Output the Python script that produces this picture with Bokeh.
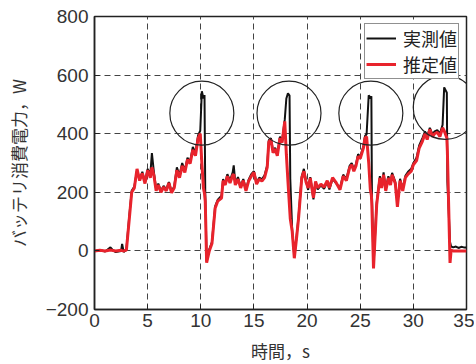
from bokeh.plotting import figure
from bokeh.models import Range1d, Legend, LegendItem, CustomJSTickFormatter, FixedTicker
from bokeh.embed import file_html
from bokeh.resources import INLINE

time_s = [0.0, 0.5, 1.0, 1.5, 1.75, 2.0, 2.5, 2.6, 2.75, 3.0, 3.25, 3.5, 3.75, 4.0, 4.25, 4.5, 4.75,
          5.0, 5.25, 5.4, 5.6, 5.8, 6.0, 6.25, 6.5, 6.75, 7.0, 7.25, 7.5, 7.75, 8.0, 8.25, 8.5, 8.75,
          9.0, 9.25, 9.5, 9.75, 9.95, 10.1, 10.25, 10.35, 10.42, 10.55, 10.8, 11.05, 11.35, 11.6,
          11.95, 12.1, 12.3, 12.5, 12.75, 13.0, 13.1, 13.25, 13.5, 13.75, 14.0, 14.25, 14.5, 14.75,
          15.0, 15.25, 15.5, 15.75, 16.0, 16.25, 16.4, 16.6, 16.8, 17.0, 17.2, 17.45, 17.65, 17.9,
          18.05, 18.2, 18.35, 18.42, 18.6, 18.8, 19.0, 19.2, 19.5, 19.7, 19.9, 20.1, 20.3, 20.6,
          20.8, 21.0, 21.3, 21.6, 21.9, 22.1, 22.4, 22.7, 23.1, 23.4, 23.7, 24.0, 24.2, 24.4, 24.6,
          24.8, 25.0, 25.3, 25.45, 25.6, 25.8, 25.95, 26.05, 26.1, 26.25, 26.55, 26.7, 26.85, 27.0,
          27.2, 27.4, 27.65, 27.85, 28.0, 28.3, 28.5, 28.75, 29.0, 29.25, 29.5, 29.8, 30.0, 30.3,
          30.55, 30.85, 31.1, 31.3, 31.55, 31.8, 32.0, 32.25, 32.5, 32.75, 32.9, 33.15, 33.2, 33.45,
          33.55, 33.75, 34.0, 34.25, 34.5, 34.75, 35.0]

estimated_w = [0, 2, 0, 3, 1, 0, 2, 1, 0, 3, 100, 200, 215, 280, 240, 265, 230,
               275, 250, 285, 255, 205, 225, 200, 218, 205, 232, 198, 215, 275, 250, 290, 268, 312,
               298, 345, 325, 385, 400, 300, 215, 195, 170, -40, 0, 25, 146, 170,
               180, 240, 225, 255, 232, 258, 262, 225, 245, 215, 240, 205, 238, 255,
               268, 228, 245, 238, 250, 285, 372, 380, 335, 348, 325, 385, 370, 442,
               330, 238, 150, 110, 67, -25, 40, 112, 249, 272, 235, 215, 249, 181,
               237, 215, 228, 218, 240, 215, 250, 235, 209, 255, 240, 283, 294, 272, 290,
               323, 315, 351, 385, 390, 300, 210, 190, 150, -60, 158, 205, 249, 215,
               260, 205, 249, 225, 260, 230, 150, 240, 205, 250, 262, 272, 294, 308,
               351, 374, 400, 380, 415, 390, 400, 405, 390, 420, 410, 385, 340, -41,
               2, 0, 0, 0, 0, 0, 0]

measured_w = [0, 3, -2, 12, 2, -4, 0, 24, -4, 5, 110, 205, 220, 275, 245, 270, 235,
              280, 260, 334, 265, 210, 230, 205, 222, 210, 235, 203, 220, 285, 258, 300, 275, 318,
              305, 355, 335, 395, 410, 545, 520, 532, 204, -35, 5, 30, 152, 175,
              188, 245, 230, 262, 240, 268, 292, 232, 252, 220, 245, 210, 243, 262,
              272, 232, 250, 244, 258, 292, 378, 385, 340, 352, 330, 390, 375, 448,
              520, 538, 530, 245, 70, -20, 45, 118, 255, 280, 240, 208, 252, 176,
              232, 210, 224, 212, 236, 210, 246, 232, 214, 260, 246, 290, 300, 278, 296,
              330, 320, 358, 392, 398, 531, 520, 528, 203, -55, 165, 210, 255, 220,
              268, 212, 255, 232, 266, 236, 165, 246, 212, 256, 270, 280, 300, 318,
              360, 385, 408, 390, 420, 398, 408, 412, 400, 430, 558, 540, 238, 30,
              15, 12, 15, 10, 14, 12, 12]

circle_t = [10.1, 18.3, 26.0, 33.0]
circle_w = [470, 470, 470, 490]

x_ticks = [0, 5, 10, 15, 20, 25, 30, 35]
y_ticks = [-200, 0, 200, 400, 600, 800]

p = figure(output_backend="svg", toolbar_location=None,
           frame_width=372, frame_height=293,
           min_border_left=94, min_border_right=8, min_border_top=16, min_border_bottom=45,
           x_range=Range1d(0, 35), y_range=Range1d(-200, 800))

p.background_fill_color = "white"
p.border_fill_color = "white"
p.outline_line_color = "#222222"
p.outline_line_width = 1.5

font = "Liberation Sans"
jp_font = "Noto Sans CJK JP"

for ax in (p.xaxis[0], p.yaxis[0]):
    ax.major_tick_in = 5
    ax.major_tick_out = 0
    ax.minor_tick_in = 0
    ax.minor_tick_out = 0
    ax.axis_line_color = "#222222"
    ax.axis_line_width = 1.5
    ax.major_tick_line_color = "#222222"
    ax.major_label_text_font = font
    ax.major_label_text_font_size = "19px"
    ax.major_label_text_color = "#333333"
    ax.axis_label_text_font = jp_font
    ax.axis_label_text_font_style = "normal"
    ax.axis_label_text_font_size = "17px"
    ax.axis_label_text_color = "#333333"

p.xaxis[0].ticker = FixedTicker(ticks=x_ticks)
p.yaxis[0].ticker = FixedTicker(ticks=y_ticks)
p.yaxis[0].formatter = CustomJSTickFormatter(
    code="return tick < 0 ? '\u2212' + Math.abs(tick) : tick.toString();")
p.xaxis[0].major_label_standoff = 4
p.yaxis[0].major_label_standoff = 6
p.xaxis[0].axis_label = "時間，s"
p.yaxis[0].axis_label = "バッテリ消費電力，W"
p.xaxis[0].axis_label_standoff = 8
p.yaxis[0].axis_label_standoff = 12

p.grid.grid_line_color = "#444444"
p.grid.grid_line_dash = "6 4"
p.grid.grid_line_width = 1
p.xgrid.ticker = FixedTicker(ticks=x_ticks)
p.ygrid.ticker = FixedTicker(ticks=y_ticks)

r_meas = p.line(time_s, measured_w, line_color="#111111", line_width=2)
r_est = p.line(time_s, estimated_w, line_color="#e8232c", line_width=3)

p.scatter(circle_t, circle_w, marker="circle", size=64, fill_alpha=0,
          line_color="#222222", line_width=1.2)

legend = Legend(items=[LegendItem(label="実測値", renderers=[r_meas]),
                       LegendItem(label="推定値", renderers=[r_est])],
                location="top_right")
legend.label_text_font = jp_font
legend.label_text_font_size = "18px"
legend.label_text_line_height = 1.0
legend.label_text_color = "#222222"
legend.glyph_width = 30
legend.glyph_height = 16
legend.label_height = 16
legend.label_standoff = 7
legend.spacing = -4
legend.padding = 1
legend.margin = 7
legend.border_line_color = "#222222"
legend.border_line_width = 1.2
legend.background_fill_alpha = 1
p.add_layout(legend)

open("out.html", "w").write(file_html(p, INLINE))
